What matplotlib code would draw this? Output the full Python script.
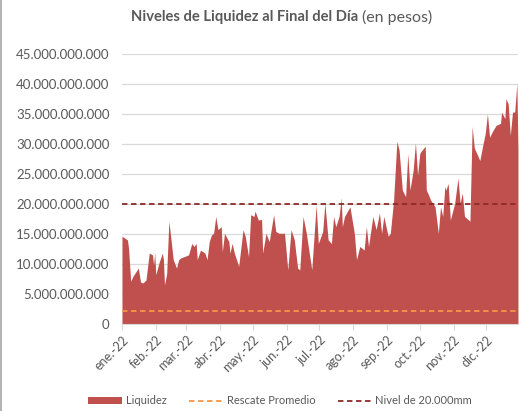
import matplotlib
matplotlib.use("Agg")
import matplotlib.pyplot as plt
import matplotlib.ticker as mticker
from matplotlib.patches import Patch
from matplotlib.lines import Line2D
import pandas as pd

## Data (day of year 2022, liquidity in billions of pesos)
days = [0, 5, 6, 8, 10, 15, 17, 19, 22, 25, 28, 29, 30, 31, 34, 37, 38, 39, 41, 43,
        45, 47, 50, 52, 54, 57, 61, 64, 66, 68, 69, 72, 76, 78, 80, 82, 84, 86, 88, 91,
        92, 94, 98, 99, 101, 103, 107, 111, 113, 116, 118, 121, 122, 125, 128,
        129, 132, 135, 139, 141, 144, 149, 152, 155, 158, 161, 163, 166, 169, 174,
        178, 180, 184, 186, 189, 192, 194, 196, 199, 201, 202, 204, 209, 213, 215,
        218, 222, 224, 226, 230, 233, 236, 238, 240, 244, 246, 249, 252, 254, 257,
        260, 262, 264, 267, 269, 271, 273, 274, 278, 279, 281, 283, 287, 290, 292,
        294, 296, 297, 299, 301, 305, 308, 310, 312, 314, 316, 319, 321, 323, 326,
        328, 331, 333, 335, 337, 340, 343, 347, 348, 351, 352, 354, 356, 358, 360,
        362, 363]
liquidez = [14.6, 14.0, 12.7, 7.1, 7.9, 9.3, 7.0, 6.8, 7.3, 11.8, 11.5, 9.8, 11.9, 8.2,
            10.2, 11.8, 10.7, 6.5, 8.4, 17.1, 14.0, 10.7, 9.3, 10.7, 11.0, 11.2, 11.5,
            13.4, 12.9, 13.4, 10.7, 12.3, 11.8, 10.7, 13.7, 14.8, 15.1, 17.9, 15.7, 16.2,
            12.0, 15.1, 13.7, 11.8, 13.4, 11.8, 9.6, 15.7, 14.6, 11.2, 18.2, 17.9, 18.8,
            17.3, 17.4,
            11.8, 15.1, 13.7, 18.2, 15.4, 15.1, 15.1, 9.0, 15.7, 14.0, 9.3, 9.0, 17.9,
            15.1, 9.0, 19.8, 13.4, 15.4, 20.1, 14.0, 13.4, 17.9, 16.2, 17.9, 21.0, 16.2,
            17.9, 19.5, 15.1, 10.7, 12.9, 12.3, 16.2, 12.9, 17.9, 15.7, 18.5, 15.1, 17.9,
            14.6, 15.1, 20.6, 30.4, 29.0, 22.3, 21.2, 28.4, 22.3, 25.7, 30.2, 24.8, 28.4,
            28.7, 29.6, 22.3, 21.5, 20.6, 19.5, 15.1, 19.5, 17.9, 22.9, 22.3, 23.4, 17.3,
            20.1, 24.3, 20.1, 21.8, 17.9, 17.6, 17.1, 32.9, 29.3, 28.1, 27.2, 30.0, 31.7,
            35.0, 31.1, 32.2, 33.1, 33.4, 35.3, 34.2, 37.5, 36.7, 31.4, 35.3, 35.3, 40.1,
            29.0]
rescate_promedio = 2.2
nivel_20000mm = 20.0
month_labels = ['ene.-22', 'feb.-22', 'mar.-22', 'abr.-22', 'may.-22', 'jun.-22',
                'jul.-22', 'ago.-22', 'sep.-22', 'oct.-22', 'nov.-22', 'dic.-22']

dates = pd.Timestamp('2022-01-01') + pd.to_timedelta(days, unit='D')
values = [v * 1e9 for v in liquidez]
month_ticks = pd.date_range('2022-01-01', periods=12, freq='MS')

plt.rcParams['font.family'] = ['Lato', 'DejaVu Sans']
gray = '#595959'
red = '#C0504D'
orange = '#F79646'
darkred = '#8C2A28'

fig = plt.figure(figsize=(5.19, 4.11), dpi=100)
ax = fig.add_axes([0.235, 0.212, 0.763, 0.657])

ax.fill_between(dates, values, 0, color=red, lw=0, zorder=2)
ax.axhline(rescate_promedio * 1e9, color=orange, ls=(0, (3, 2)), lw=1.3, zorder=3)
ax.axhline(nivel_20000mm * 1e9, color=darkred, ls=(0, (3, 2)), lw=1.3, zorder=3)

ax.set_xlim(pd.Timestamp('2022-01-01'), pd.Timestamp('2022-12-30'))
ax.set_ylim(0, 45e9)
ax.yaxis.set_major_locator(mticker.MultipleLocator(5e9))
ax.yaxis.set_major_formatter(mticker.FuncFormatter(lambda v, p: f"{int(round(v)):,}".replace(',', '.')))
ax.grid(axis='y', color='#D9D9D9', lw=0.9, zorder=0)
ax.set_axisbelow(True)

ax.set_xticks(month_ticks)
ax.set_xticklabels(month_labels, rotation=45, ha='right', rotation_mode='anchor')

for s in ['left', 'right', 'top']:
    ax.spines[s].set_visible(False)
ax.spines['bottom'].set_color('#D9D9D9')
ax.tick_params(axis='y', length=0, pad=9, labelsize=9.5, labelcolor=gray)
ax.tick_params(axis='x', length=4, color='#D9D9D9', pad=3, labelsize=9, labelcolor=gray)

# title in two parts (bold + regular)
fig.text(0.69, 0.958, 'Niveles de Liquidez al Final del Día', ha='right', va='center',
         fontsize=10.6, fontweight='bold', color=gray)
fig.text(0.697, 0.958, '(en pesos)', ha='left', va='center', fontsize=11.5, color=gray)

handles = [Patch(facecolor=red, edgecolor='none'),
           Line2D([], [], color=orange, ls=(0, (3, 2)), lw=1.3),
           Line2D([], [], color=darkred, ls=(0, (3, 2)), lw=1.3)]
fig.legend(handles, ['Liquidez', 'Rescate Promedio', 'Nivel de 20.000mm'],
           loc='center', bbox_to_anchor=(0.54, 0.025), ncol=3, frameon=False,
           fontsize=8, labelcolor=gray, handlelength=3.0, handleheight=0.6,
           columnspacing=2.0, handletextpad=0.4)

# chart-area border on the left
fig.add_artist(Line2D([0.002, 0.002], [0, 1], color='#A6A6A6', lw=1.2, transform=fig.transFigure))

fig.savefig('out.png', dpi=100)
